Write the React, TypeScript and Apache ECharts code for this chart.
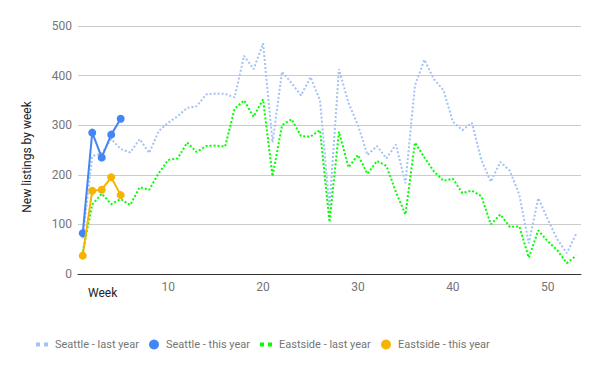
import React, { useEffect, useRef } from "react";
import * as echarts from "echarts";

const weekTicks = [10, 20, 30, 40, 50];

const seattleLastYear = [
  72, 238, 243, 272, 252, 245, 272, 244, 288, 305,
  318, 335, 338, 362, 364, 363, 356, 440, 413, 465,
  265, 408, 385, 360, 397, 350, 135, 413, 345, 300,
  240, 258, 233, 261, 183, 380, 432, 393, 371, 307,
  290, 305, 230, 186, 226, 208, 160, 62, 153, 110,
  70, 42, 81,
];
const seattleThisYear = [82, 285, 235, 281, 313];
const eastsideLastYear = [
  45, 140, 162, 141, 151, 139, 175, 170, 203, 230,
  233, 265, 246, 258, 259, 257, 333, 350, 317, 352,
  197, 300, 312, 278, 277, 290, 105, 287, 215, 240,
  202, 228, 218, 165, 120, 265, 235, 207, 188, 192,
  163, 168, 157, 100, 120, 95, 96, 33, 88, 66,
  48, 22, 37,
];
const eastsideThisYear = [37, 168, 170, 195, 159];

const seriesNames = [
  "Seattle - last year",
  "Seattle - this year",
  "Eastside - last year",
  "Eastside - this year",
];
const colors = ["#a4c2f4", "#4285f4", "#00ff00", "#f4b400"];

const toPoints = (vals: number[]) => vals.map((v, i) => [i + 1, v]);

const dashIcon = "path://M0,0h4v4h-4zM8,0h4v4h-4z";

export default function App() {
  const ref = useRef<HTMLDivElement>(null);
  useEffect(() => {
    document.body.style.margin = "0";
    if (!ref.current) return;
    const chart = echarts.init(ref.current, null, { renderer: "svg" });
    const lastStyle = (color: string) => ({
      color,
      width: 2,
      type: [2, 2] as any,
    });
    const legendLefts = [31, 144, 255, 376];
    const legendIcons = [dashIcon, "circle", dashIcon, "circle"];
    chart.setOption({
      animation: false,
      textStyle: { fontFamily: "Roboto, Arial, sans-serif" },
      grid: { left: 78, right: 19, top: 26, bottom: 97 },
      xAxis: {
        type: "value",
        min: 0.5,
        max: 53.5,
        axisLine: { show: true, lineStyle: { color: "#333", width: 1 } },
        axisTick: { show: false },
        splitLine: { show: false },
        axisLabel: {
          customValues: weekTicks,
          color: "#757575",
          fontSize: 12,
          margin: 7,
        },
      },
      yAxis: {
        type: "value",
        min: 0,
        max: 500,
        interval: 100,
        axisLine: { show: false },
        axisTick: { show: false },
        splitLine: { lineStyle: { color: "#cccccc", width: 1 } },
        axisLabel: { color: "#757575", fontSize: 12, margin: 6 },
      },
      legend: seriesNames.map((name, i) => ({
        data: [name],
        left: legendLefts[i],
        top: 334,
        icon: legendIcons[i],
        itemWidth: legendIcons[i] === "circle" ? 10 : 12,
        itemHeight: legendIcons[i] === "circle" ? 10 : 4,
        itemStyle: { color: colors[i] },
        textStyle: { color: "#757575", fontSize: 11, padding: [0, 0, 0, 2] },
        selectedMode: false,
      })),
      graphic: [
        {
          type: "text",
          x: 27,
          y: 157,
          rotation: Math.PI / 2,
          style: {
            text: "New listings by week",
            fill: "#222",
            font: "12px Roboto, Arial, sans-serif",
            textAlign: "center",
            textVerticalAlign: "middle",
          },
        },
        {
          type: "text",
          x: 88,
          y: 293,
          style: {
            text: "Week",
            fill: "#222",
            font: "12px Roboto, Arial, sans-serif",
            textAlign: "left",
            textVerticalAlign: "middle",
          },
        },
      ],
      series: [
        {
          name: seriesNames[0],
          type: "line",
          data: toPoints(seattleLastYear),
          showSymbol: false,
          lineStyle: lastStyle(colors[0]),
          itemStyle: { color: colors[0] },
          z: 2,
        },
        {
          name: seriesNames[1],
          type: "line",
          data: toPoints(seattleThisYear),
          symbol: "circle",
          symbolSize: 8,
          lineStyle: { color: colors[1], width: 2 },
          itemStyle: { color: colors[1] },
          z: 4,
        },
        {
          name: seriesNames[2],
          type: "line",
          data: toPoints(eastsideLastYear),
          showSymbol: false,
          lineStyle: lastStyle(colors[2]),
          itemStyle: { color: colors[2] },
          z: 3,
        },
        {
          name: seriesNames[3],
          type: "line",
          data: toPoints(eastsideThisYear),
          symbol: "circle",
          symbolSize: 8,
          lineStyle: { color: colors[3], width: 2 },
          itemStyle: { color: colors[3] },
          z: 5,
        },
      ],
    });
    return () => chart.dispose();
  }, []);
  return <div ref={ref} style={{ width: 600, height: 371 }} />;
}
